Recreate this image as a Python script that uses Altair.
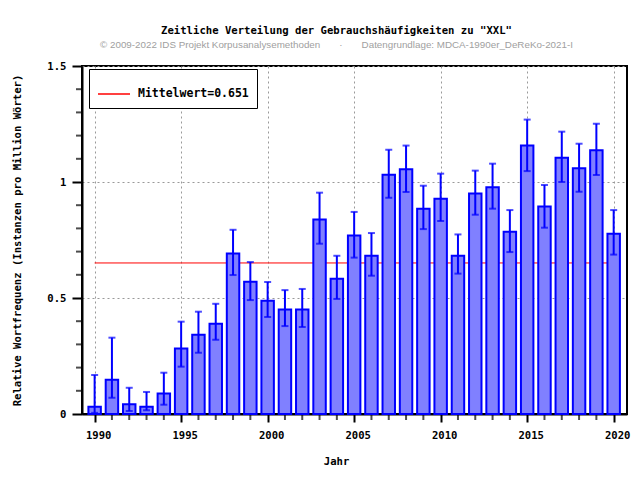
import altair as alt
import pandas as pd

years = list(range(1990, 2021))
values = [0.031, 0.148, 0.042, 0.031, 0.088, 0.282, 0.342, 0.389, 0.692, 0.570,
          0.488, 0.450, 0.450, 0.838, 0.583, 0.769, 0.682, 1.031, 1.055, 0.885,
          0.928, 0.682, 0.950, 0.977, 0.786, 1.157, 0.894, 1.105, 1.059, 1.137,
          0.777]
err_low = [0.005, 0.070, 0.013, 0.016, 0.040, 0.204, 0.264, 0.320, 0.599, 0.491,
           0.418, 0.379, 0.375, 0.734, 0.496, 0.674, 0.596, 0.932, 0.957, 0.797,
           0.832, 0.605, 0.859, 0.885, 0.698, 1.047, 0.803, 1.000, 0.958, 1.030,
           0.687]
err_high = [0.168, 0.329, 0.113, 0.095, 0.178, 0.398, 0.441, 0.475, 0.794, 0.655,
            0.569, 0.534, 0.539, 0.954, 0.682, 0.871, 0.780, 1.139, 1.157, 0.984,
            1.036, 0.774, 1.049, 1.079, 0.879, 1.269, 0.987, 1.217, 1.165, 1.251,
            0.879]
mean_value = 0.651
mean_label = "Mittelwert=0.651"
x_major = [1990, 1995, 2000, 2005, 2010, 2015, 2020]
x_minor = [y for y in years if y not in x_major]
y_major = [0, 0.5, 1, 1.5]
y_minor = [0.1, 0.2, 0.3, 0.4, 0.6, 0.7, 0.8, 0.9, 1.1, 1.2, 1.3, 1.4]
x_domain = [1989.27, 2020.77]
y_domain = [0, 1.5]

title_text = 'Zeitliche Verteilung der Gebrauchshäufigkeiten zu "XXL"'
subtitle_text = ("© 2009-2022 IDS Projekt Korpusanalysemethoden"
                 + "\u00a0" * 7 + "·" + "\u00a0" * 7
                 + "Datengrundlage: MDCA-1990er_DeReKo-2021-I")

df = pd.DataFrame({"Jahr": years, "Wert": values, "lo": err_low, "hi": err_high})
mean_df = pd.DataFrame({"x": [years[0]], "x2": [years[-1]], "y": [mean_value],
                        "label": [mean_label]})
xminor_df = pd.DataFrame({"v": x_minor})
yminor_df = pd.DataFrame({"v": y_minor})

MONO = "DejaVu Sans Mono"
FS = 10.6
BLUE = "#0000ff"
FILL = "#8080ff"

xscale = alt.Scale(domain=x_domain, nice=False, zero=False)
yscale = alt.Scale(domain=y_domain, nice=False, zero=False)

xaxis = alt.Axis(
    values=x_major, title="Jahr", format="d",
    labelFlush=False, labelPadding=8, labelOffset=3.5, tickSize=8,
    grid=True, titlePadding=16, titleX=254,
)
yaxis = alt.Axis(
    values=y_major, title="Relative Wortfrequenz (Instanzen pro Million Wörter)",
    format="~g", labelFlush=False, labelPadding=6, tickSize=10,
    grid=True, titlePadding=24,
)

mean_rule = alt.Chart(mean_df).mark_rule(strokeWidth=1).encode(
    x=alt.X("x:Q", scale=xscale, axis=xaxis, title="Jahr"),
    x2="x2:Q",
    y=alt.Y("y:Q", scale=yscale, axis=yaxis),
    color=alt.Color("label:N", scale=alt.Scale(range=["red"]),
                    legend=alt.Legend(title=None, orient="none", legendX=7, legendY=3,
                                      symbolType="stroke", symbolSize=1024,
                                      symbolStrokeWidth=1.5,
                                      strokeColor="black", fillColor="white",
                                      padding=8, labelFont=MONO, labelFontSize=11.5,
                                      labelFontWeight="bold", labelColor="black",
                                      labelOffset=7)),
)

base = alt.Chart(df).transform_calculate(
    x0="datum.Jahr - 0.36", x1="datum.Jahr + 0.36"
)

bars = base.mark_rect(fill=FILL, stroke=BLUE, strokeWidth=2).encode(
    x=alt.X("x0:Q", scale=xscale, axis=xaxis),
    x2="x1:Q",
    y=alt.Y("Wert:Q", scale=yscale, axis=yaxis),
    y2=alt.datum(0),
)

stems = base.mark_rule(color=BLUE, strokeWidth=2).encode(
    x=alt.X("Jahr:Q", scale=xscale, axis=xaxis),
    y=alt.Y("lo:Q", scale=yscale, axis=yaxis),
    y2="hi:Q",
)
cap_lo = base.mark_tick(color=BLUE, orient="horizontal", size=7, thickness=2).encode(
    x=alt.X("Jahr:Q", scale=xscale, axis=xaxis),
    y=alt.Y("lo:Q", scale=yscale, axis=yaxis),
)
cap_hi = base.mark_tick(color=BLUE, orient="horizontal", size=7, thickness=2).encode(
    x=alt.X("Jahr:Q", scale=xscale, axis=xaxis),
    y=alt.Y("hi:Q", scale=yscale, axis=yaxis),
)

x_minor_ticks = alt.Chart(xminor_df).mark_tick(
    color="black", orient="vertical", size=5, thickness=2, yOffset=3.5
).encode(
    x=alt.X("v:Q", scale=xscale, axis=xaxis),
    y=alt.datum(y_domain[0], scale=yscale, axis=yaxis),
)
y_minor_ticks = alt.Chart(yminor_df).mark_tick(
    color="black", orient="horizontal", size=5, thickness=2, xOffset=-3.5
).encode(
    x=alt.datum(x_domain[0], scale=xscale, axis=xaxis),
    y=alt.Y("v:Q", scale=yscale, axis=yaxis),
)

chart = alt.layer(mean_rule, bars, stems, cap_lo, cap_hi, x_minor_ticks, y_minor_ticks).properties(
    width=545, height=348,
    autosize="none",
    background="white",
    padding={"left": 74, "top": 58, "right": 5, "bottom": 58},
    title=alt.TitleParams(
        text=title_text, subtitle=subtitle_text, anchor="middle", dx=-18,
        font=MONO, fontSize=FS, fontWeight="bold", color="black",
        subtitleFont="Liberation Sans", subtitleFontSize=9.8, subtitleColor="#a0a0a0",
        subtitlePadding=4, offset=11,
    ),
).configure_view(
    stroke="black", strokeWidth=2
).configure_axis(
    domainColor="black", domainWidth=2, tickColor="black", tickWidth=2,
    gridColor="#999999", gridDash=[2, 3], gridWidth=1,
    labelFont=MONO, labelFontSize=FS, labelFontWeight="bold", labelColor="black",
    titleFont=MONO, titleFontSize=FS, titleFontWeight="bold", titleColor="black",
)

chart.save("out.html", embed_options={"renderer": "svg", "actions": False})
